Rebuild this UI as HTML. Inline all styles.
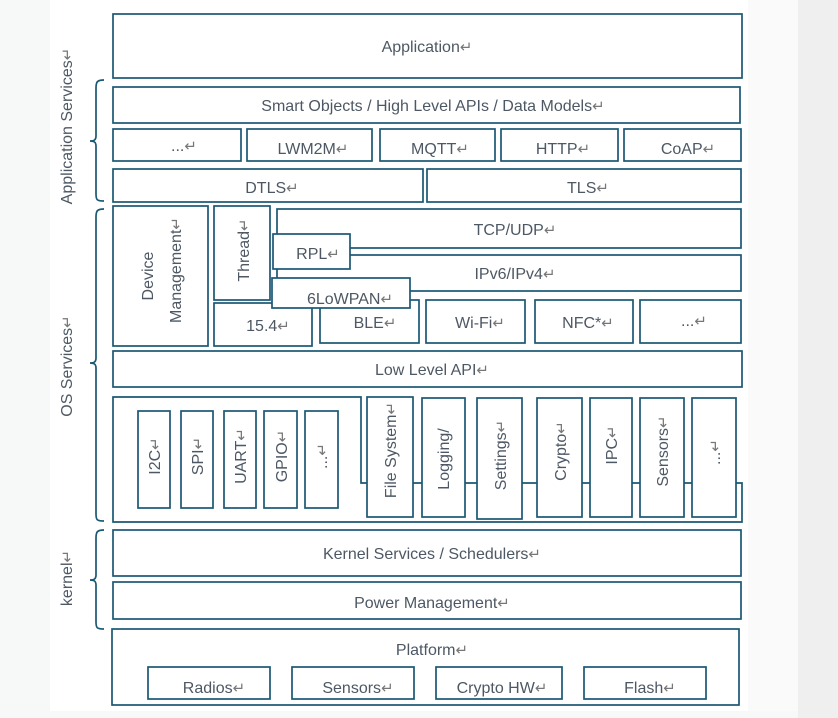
<!DOCTYPE html>
<html><head><meta charset="utf-8"><style>
body{margin:0;background:#f7f8f8;}
svg{display:block}
text{font-family:"Liberation Sans","DejaVu Sans",sans-serif;fill:#4d5864;font-size:16px;}
.r{fill:#fff;stroke:#1b5873;stroke-width:1.7}
.l{fill:none;stroke:#1b5873;stroke-width:1.7}
.a{fill:#777;font-size:15px}
</style></head><body>
<svg width="838" height="718" viewBox="0 0 838 718">
<rect x="0" y="0" width="838" height="718" fill="#f7f8f8"/>
<rect x="50" y="0" width="698" height="711" fill="#fff"/>
<rect x="748" y="0" width="50" height="711" fill="#fafafa"/>
<rect x="798" y="0" width="40" height="718" fill="#efefef"/>

<path class="l" d="M104,80 C97,80 96,82 96,88 L96,136 C96,140 94,141 90,141 C94,141 96,142 96,146 L96,194 C96,200 97,201 104,201"/>
<path class="l" d="M104,209 C97,209 96,211 96,217 L96,358 C96,362 94,363 90,363 C94,363 96,364 96,368 L96,514 C96,520 97,521 104,521"/>
<path class="l" d="M104,530 C97,530 96,532 96,538 L96,575 C96,579 94,580 90,580 C94,580 96,581 96,585 L96,622 C96,628 97,629 104,629"/>
<text transform="translate(72,126) rotate(-90)" text-anchor="middle" font-size="17">Application Services<tspan class="a">↵</tspan></text>
<text transform="translate(72,366) rotate(-90)" text-anchor="middle" font-size="17">OS Services<tspan class="a">↵</tspan></text>
<text transform="translate(72,578) rotate(-90)" text-anchor="middle" font-size="17">kernel<tspan class="a">↵</tspan></text>

<rect class="r" x="113" y="14" width="629" height="64"/>
<text x="427" y="52" text-anchor="middle" font-size="17">Application<tspan class="a">↵</tspan></text>
<rect class="r" x="113" y="87" width="627" height="36"/>
<text x="433" y="111" text-anchor="middle" font-size="17">Smart Objects / High Level APIs / Data Models<tspan class="a">↵</tspan></text>

<rect class="r" x="113" y="129" width="128" height="32"/><text x="184" y="151" text-anchor="middle">...<tspan class="a">↵</tspan></text>
<rect class="r" x="247" y="129" width="125" height="32"/><text x="313" y="154" text-anchor="middle" font-size="17">LWM2M<tspan class="a">↵</tspan></text>
<rect class="r" x="380" y="129" width="115" height="32"/><text x="440" y="154" text-anchor="middle" font-size="17">MQTT<tspan class="a">↵</tspan></text>
<rect class="r" x="501" y="129" width="117" height="32"/><text x="563" y="154" text-anchor="middle" font-size="17">HTTP<tspan class="a">↵</tspan></text>
<rect class="r" x="624" y="129" width="117" height="32"/><text x="688" y="154" text-anchor="middle" font-size="17">CoAP<tspan class="a">↵</tspan></text>

<rect class="r" x="113" y="169" width="310" height="33"/><text x="272" y="193" text-anchor="middle" font-size="17">DTLS<tspan class="a">↵</tspan></text>
<rect class="r" x="427" y="169" width="314" height="33"/><text x="588" y="193" text-anchor="middle" font-size="17">TLS<tspan class="a">↵</tspan></text>

<rect class="r" x="113" y="206" width="95" height="140"/>
<text transform="translate(153,276) rotate(-90)" text-anchor="middle" font-size="17">Device</text>
<text transform="translate(181,270) rotate(-90)" text-anchor="middle" font-size="17">Management<tspan class="a">↵</tspan></text>
<rect class="r" x="214" y="206" width="56" height="94"/>
<text transform="translate(249,250) rotate(-90)" text-anchor="middle" font-size="17">Thread<tspan class="a">↵</tspan></text>

<rect class="r" x="277" y="209" width="464" height="39"/><text x="515" y="235" text-anchor="middle" font-size="17">TCP/UDP<tspan class="a">↵</tspan></text>
<rect class="r" x="277" y="255" width="464" height="36"/><text x="515" y="279" text-anchor="middle" font-size="17">IPv6/IPv4<tspan class="a">↵</tspan></text>
<rect class="r" x="273" y="234" width="77" height="35"/><text x="318" y="259" text-anchor="middle" font-size="17">RPL<tspan class="a">↵</tspan></text>

<rect class="r" x="214" y="303" width="98" height="43"/><text x="268" y="331" text-anchor="middle" font-size="17">15.4<tspan class="a">↵</tspan></text>
<rect class="r" x="320" y="300" width="99" height="43"/><text x="375" y="328" text-anchor="middle" font-size="17">BLE<tspan class="a">↵</tspan></text>
<rect class="r" x="426" y="300" width="99" height="43"/><text x="480" y="328" text-anchor="middle" font-size="17">Wi-Fi<tspan class="a">↵</tspan></text>
<rect class="r" x="535" y="300" width="98" height="43"/><text x="588" y="328" text-anchor="middle" font-size="17">NFC*<tspan class="a">↵</tspan></text>
<rect class="r" x="640" y="300" width="101" height="43"/><text x="694" y="326" text-anchor="middle">...<tspan class="a">↵</tspan></text>
<rect class="r" x="272" y="278" width="138" height="30"/><text x="350" y="304" text-anchor="middle" font-size="17">6LoWPAN<tspan class="a">↵</tspan></text>

<rect class="r" x="113" y="351" width="629" height="36"/><text x="432" y="375" text-anchor="middle" font-size="17">Low Level API<tspan class="a">↵</tspan></text>

<path class="r" d="M113,397 L361,397 L361,483 L742,483 L742,522 L113,522 Z"/>
<rect class="r" x="138" y="411" width="32" height="97"/><text transform="translate(160,456) rotate(-90)" text-anchor="middle">I2C<tspan class="a">↵</tspan></text>
<rect class="r" x="181" y="411" width="32" height="97"/><text transform="translate(203,456) rotate(-90)" text-anchor="middle">SPI<tspan class="a">↵</tspan></text>
<rect class="r" x="224" y="411" width="32" height="97"/><text transform="translate(246,456) rotate(-90)" text-anchor="middle">UART<tspan class="a">↵</tspan></text>
<rect class="r" x="264" y="411" width="33" height="97"/><text transform="translate(287,456) rotate(-90)" text-anchor="middle">GPIO<tspan class="a">↵</tspan></text>
<rect class="r" x="305" y="411" width="33" height="97"/><text transform="translate(327,456) rotate(-90)" text-anchor="middle">...<tspan class="a">↵</tspan></text>

<rect class="r" x="367" y="397" width="46" height="120"/><text transform="translate(396,450) rotate(-90)" text-anchor="middle" font-size="17">File System<tspan class="a">↵</tspan></text>
<rect class="r" x="422" y="398" width="43" height="119"/><text transform="translate(449,459) rotate(-90)" text-anchor="middle" font-size="17">Logging/</text>
<rect class="r" x="477" y="398" width="45" height="121"/><text transform="translate(506,455) rotate(-90)" text-anchor="middle" font-size="17">Settings<tspan class="a">↵</tspan></text>
<rect class="r" x="537" y="398" width="45" height="119"/><text transform="translate(566,451) rotate(-90)" text-anchor="middle" font-size="17">Crypto<tspan class="a">↵</tspan></text>
<rect class="r" x="590" y="398" width="42" height="119"/><text transform="translate(617,445) rotate(-90)" text-anchor="middle" font-size="17">IPC<tspan class="a">↵</tspan></text>
<rect class="r" x="640" y="398" width="44" height="119"/><text transform="translate(668,451) rotate(-90)" text-anchor="middle" font-size="17">Sensors<tspan class="a">↵</tspan></text>
<rect class="r" x="692" y="398" width="44" height="119"/><text transform="translate(720,452) rotate(-90)" text-anchor="middle">...<tspan class="a">↵</tspan></text>

<rect class="r" x="113" y="530" width="628" height="46"/><text x="432" y="559" text-anchor="middle" font-size="17">Kernel Services / Schedulers<tspan class="a">↵</tspan></text>
<rect class="r" x="113" y="582" width="628" height="37"/><text x="432" y="608" text-anchor="middle" font-size="18">Power Management<tspan class="a">↵</tspan></text>

<rect class="r" x="112" y="629" width="627" height="76"/><text x="432" y="655" text-anchor="middle" font-size="17">Platform<tspan class="a">↵</tspan></text>
<rect class="r" x="148" y="667" width="122" height="32"/><text x="214" y="693" text-anchor="middle" font-size="17">Radios<tspan class="a">↵</tspan></text>
<rect class="r" x="292" y="667" width="122" height="32"/><text x="358" y="693" text-anchor="middle" font-size="17">Sensors<tspan class="a">↵</tspan></text>
<rect class="r" x="436" y="667" width="126" height="32"/><text x="502" y="693" text-anchor="middle" font-size="17">Crypto HW<tspan class="a">↵</tspan></text>
<rect class="r" x="584" y="667" width="122" height="32"/><text x="650" y="693" text-anchor="middle" font-size="17">Flash<tspan class="a">↵</tspan></text>
</svg>
</body></html>
